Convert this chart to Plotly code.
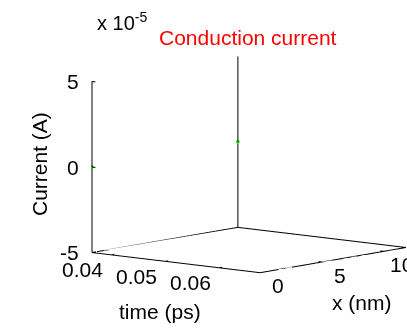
import plotly.graph_objects as go

# ---- data ----
time_range = [0.0364, 0.0676]      # time (ps)
x_range = [0, 11.8]                # x (nm)
z_range = [-5e-5, 5e-5]            # Current (A)
time_ticks = [0.04, 0.05, 0.06]
time_ticklabels = ["0.04", "0.05", "0.06"]
x_ticks = [0, 5, 10]
x_ticklabels = ["0", "5", "10"]
z_ticks = [-5e-5, 0, 5e-5]
z_ticklabels = ["-5", "0", "5"]
# visible data points (conduction current ~ 0)
pt_time = [0.0364, 0.0364]
pt_x = [0, 11.8]
pt_current = [0.0, 0.0]

t0, t1 = time_range
x0, x1 = x_range
z0, z1 = z_range
tspan, xspan = t1 - t0, x1 - x0

fig = go.Figure()

# box edges (MATLAB style axes)
edges = [
    ([t0, t1], [x0, x0], [z0, z0]),   # time axis
    ([t1, t1], [x0, x1], [z0, z0]),   # x axis
    ([t0, t0], [x0, x0], [z0, z1]),   # current axis
    ([t0, t0], [x0, x1], [z0, z0]),   # back-left floor
    ([t0, t1], [x1, x1], [z0, z0]),   # back-right floor
    ([t0, t0], [x1, x1], [z0, z1]),   # back vertical
]
# tick marks
for v in time_ticks:
    edges.append(([v, v], [x0, x0 + 0.02 * xspan], [z0, z0]))
for v in x_ticks:
    edges.append(([t1, t1 - 0.02 * tspan], [v, v], [z0, z0]))
for v in z_ticks:
    edges.append(([t0, t0 + 0.02 * tspan], [x0, x0], [v, v]))

for ex, ey, ez in edges:
    fig.add_trace(go.Scatter3d(x=ex, y=ey, z=ez, mode="lines",
                               line=dict(color="black", width=2),
                               hoverinfo="skip", showlegend=False))

fig.add_trace(go.Scatter3d(x=pt_time, y=pt_x, z=pt_current, mode="markers",
                           marker=dict(color="#00e000", size=2),
                           hoverinfo="skip", showlegend=False))

font = dict(family="Liberation Sans, Arial, sans-serif", size=21, color="black")
ann3d = []
for v, s in zip(time_ticks, time_ticklabels):
    ann3d.append(dict(x=v, y=x0, z=z0, text=s, showarrow=False, font=font,
                      xshift=-29, yshift=-15))
for v, s in zip(x_ticks, x_ticklabels):
    ann3d.append(dict(x=t1, y=v, z=z0, text=s, showarrow=False, font=font,
                      xshift=18, yshift=-13))
for v, s in zip(z_ticks, z_ticklabels):
    ann3d.append(dict(x=t0, y=x0, z=v, text=s, showarrow=False, font=font,
                      xanchor="right", xshift=-11, yshift=0))

ax = dict(visible=False, showgrid=False, showbackground=False, showspikes=False)
k = 1.5
s = 1.33
W, H = 407, 333
fig.update_layout(
    width=W, height=H,
    margin=dict(l=0, r=0, t=0, b=0),
    paper_bgcolor="white",
    scene=dict(
        xaxis=dict(ax, range=time_range),
        yaxis=dict(ax, range=x_range),
        zaxis=dict(ax, range=z_range),
        aspectmode="manual",
        aspectratio=dict(x=1.0 * s, y=1.042 * s, z=0.79 * s),
        camera=dict(projection=dict(type="orthographic"),
                    eye=dict(x=0.633 * k, y=-0.760 * k, z=0.1437 * k),
                    up=dict(x=0, y=0, z=1), center=dict(x=0, y=0, z=0)),
        domain=dict(x=[0.2236, 1.0], y=[0.012, 1.0]),
        annotations=ann3d,
    ),
    hovermode=False,
)

def px_ann(text, px, py, **kw):
    d = dict(text=text, x=px / W, y=1 - py / H, xref="paper", yref="paper",
             xanchor="center", yanchor="middle", showarrow=False, font=font)
    d.update(kw)
    fig.add_annotation(**d)

px_ann("Conduction current", 248, 38, font=dict(font, color="red"))
px_ann("x 10<sup>-5</sup>", 95, 22, xanchor="left", font=dict(font, size=20))
px_ann("Current (A)", 39, 164, textangle=-90)
px_ann("time (ps)", 160, 311)
px_ann("x (nm)", 362, 302)

fig.write_html("out.html", config={"displayModeBar": False},
               post_script="document.body.style.margin='0px';")
